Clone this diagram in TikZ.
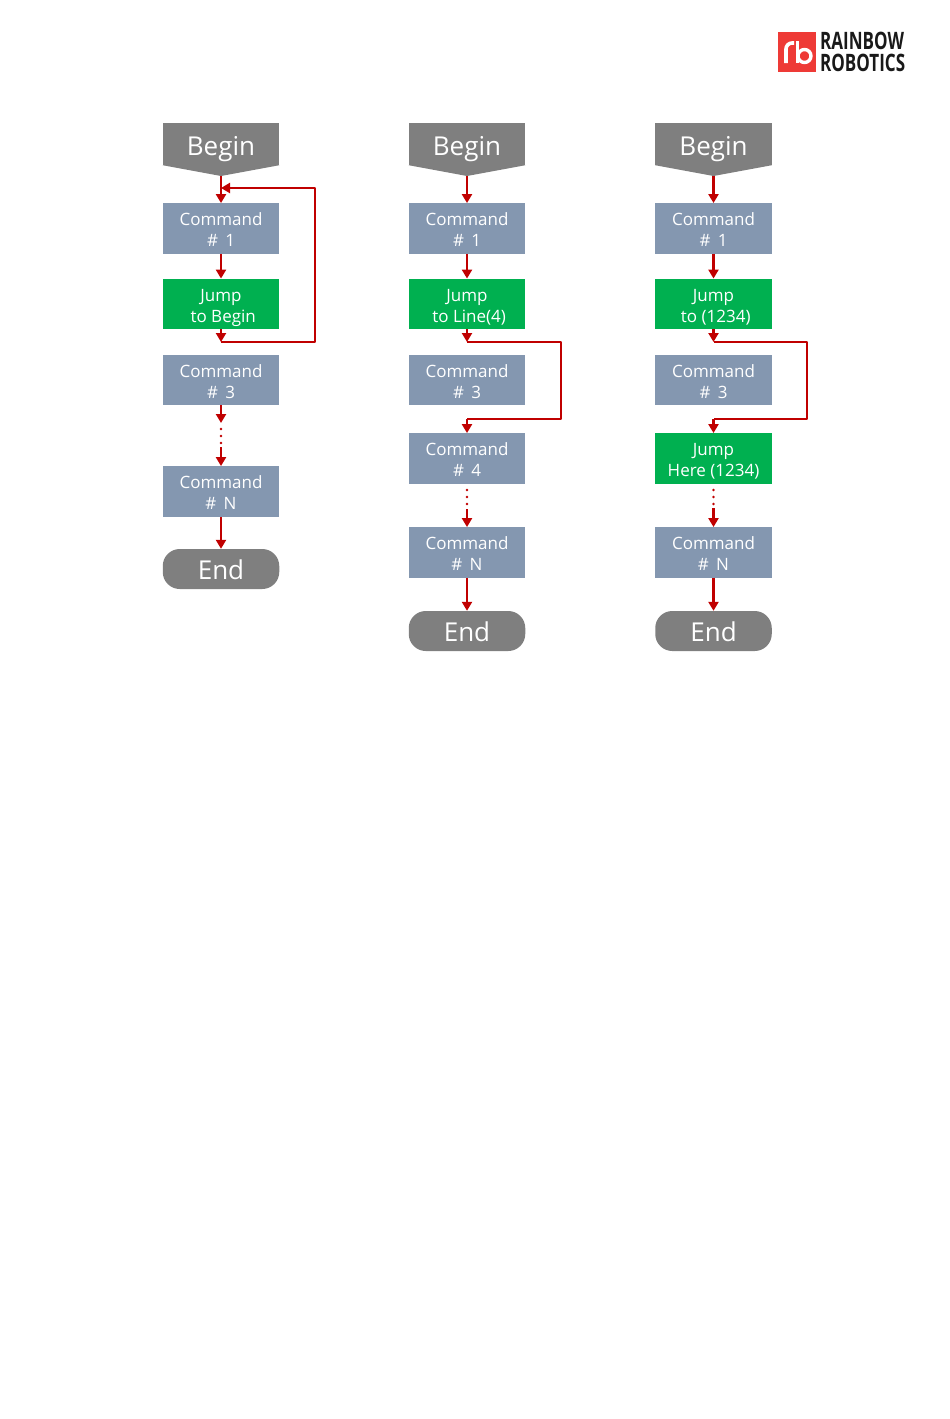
\documentclass[tikz,border=0pt]{standalone}
\usepackage{fontspec}
\setmainfont{Open Sans}
\usetikzlibrary{arrows.meta}
\definecolor{cmdblue}{HTML}{8497B0}
\definecolor{jumpgreen}{HTML}{00B050}
\definecolor{termgray}{HTML}{7F7F7F}
\definecolor{flowred}{HTML}{C00000}
\definecolor{logored}{HTML}{EE3A36}
\tikzset{
  flowbox/.style={minimum width=116.5pt, inner sep=0pt, align=center, text=white, text depth=0pt, font=\fontsize{17}{21}\selectfont},
  cmdbox/.style={flowbox, fill=cmdblue, minimum height=50.5pt, text height=36pt},
  jumpbox/.style={flowbox, fill=jumpgreen, minimum height=50.5pt, text height=36pt},
  beginbox/.style={flowbox, fill=termgray, minimum height=42pt, text height=22pt, font=\fontsize{26}{30}\selectfont},
  endbox/.style={flowbox, fill=termgray, minimum height=40pt, text height=21pt, rounded corners=17pt, font=\fontsize{26}{30}\selectfont},
  flow/.style={draw=flowred, line width=2.6pt, line join=round},
  flowdot/.style={flow, line cap=round, line width=2.8pt, dash pattern=on 0pt off 7pt},
  logotext/.style={inner sep=0pt, anchor=west, xscale=.71, text height=17pt, text depth=0pt, font=\fontsize{24}{26}\selectfont\bfseries, text=black!90}
}
\begin{document}
\begin{tikzpicture}[>={Triangle[length=9pt,width=10pt]}, x=1pt, y=-1pt]
\useasboundingbox (0,0) rectangle (950,1419);

% Logo
\fill[logored] (778,32) rectangle (816,72);
\draw[white, line width=3.6pt] (786,63) -- (786,49) arc[start angle=180, end angle=90, x radius=6, y radius=-6] -- (794,43);
\draw[white, line width=3.6pt] (797.5,41) -- (797.5,62.5);
\draw[white, line width=3.4pt] (804.5,56) circle[radius=6.5];
\node[logotext] (logoA) at (820,41) {RAINBOW};
\node[logotext] (logoB) at (820,63) {ROBOTICS};

% Spalte 1
\node[beginbox] (Ba) at (221,144) {Begin};
\fill[termgray] (Ba.south west) -- (Ba.south east) -- (221,176) -- cycle;
\coordinate (BaTip) at (221,176);
\node[cmdbox]  (Aa) at (221,228.5) {Command\\\#\ \,1};
\node[jumpbox] (Ab) at (221,304)   {Jump\\\ to Begin};
\node[cmdbox]  (Ac) at (221,380)   {Command\\\#\ \,3};
\node[cmdbox]  (An) at (221,491.5) {Command\\\#\ \,N};
\node[endbox]  (Ea) at (221,569)   {End};

\coordinate (Ja) at (221,342);
\coordinate (Ra) at (315,342);
\coordinate (Rb) at (315,188);
\coordinate (Ta) at (221,188);
\coordinate (Sa) at (221,423);
\coordinate (Da) at (221,429);
\coordinate (Db) at (221,445);
\coordinate (Dc) at (221,447);

\draw[flow,->] (BaTip) -- (Aa);
\draw[flow,->] (Aa) -- (Ab);
\draw[flow,->] (Ab) -- (Ja);
\draw[flow,->] (Ja) -- (Ra) -- (Rb) -- (Ta);
\draw[flow,->] (Ac) -- (Sa);
\draw[flowdot] (Da) -- (Db);
\draw[flow,->] (Dc) -- (An);
\draw[flow,->] (An) -- (Ea);

% Spalte 2
\node[beginbox] (Bb) at (467,144) {Begin};
\fill[termgray] (Bb.south west) -- (Bb.south east) -- (467,176) -- cycle;
\coordinate (BbTip) at (467,176);
\node[cmdbox]  (Ca) at (467,228.5) {Command\\\#\ \,1};
\node[jumpbox] (Cb) at (467,304)   {Jump\\\ to Line(4)};
\node[cmdbox]  (Cc) at (467,380)   {Command\\\#\ \,3};
\node[cmdbox]  (Cd) at (467,458.5) {Command\\\#\ \,4};
\node[cmdbox]  (Cn) at (467,552.5) {Command\\\#\ \,N};
\node[endbox]  (Eb) at (467,631)   {End};

\coordinate (Jb) at (467,342);
\coordinate (Qa) at (561,342);
\coordinate (Qb) at (561,419);
\coordinate (Tb) at (467,419);
\coordinate (Dd) at (467,490);
\coordinate (De) at (467,506);
\coordinate (Df) at (467,509);

\draw[flow,->] (BbTip) -- (Ca);
\draw[flow,->] (Ca) -- (Cb);
\draw[flow,->] (Cb) -- (Jb);
\draw[flow] (Jb) -- (Qa) -- (Qb) -- (Tb);
\draw[flow,->] (Tb) -- (Cd);
\draw[flowdot] (Dd) -- (De);
\draw[flow,->] (Df) -- (Cn);
\draw[flow,->] (Cn) -- (Eb);

% Spalte 3
\node[beginbox] (Bc) at (713.5,144) {Begin};
\fill[termgray] (Bc.south west) -- (Bc.south east) -- (713.5,176) -- cycle;
\coordinate (BcTip) at (713.5,176);
\node[cmdbox]  (Fa) at (713.5,228.5) {Command\\\#\ \,1};
\node[jumpbox] (Fb) at (713.5,304)   {Jump\\\ to (1234)};
\node[cmdbox]  (Fc) at (713.5,380)   {Command\\\#\ \,3};
\node[jumpbox] (Fd) at (713.5,458.5) {Jump\\Here (1234)};
\node[cmdbox]  (Fn) at (713.5,552.5) {Command\\\#\ \,N};
\node[endbox]  (Ec) at (713.5,631)   {End};

\coordinate (Jc) at (713.5,342);
\coordinate (Ua) at (807,342);
\coordinate (Ub) at (807,419);
\coordinate (Tc) at (713.5,419);
\coordinate (Dg) at (713.5,490);
\coordinate (Dh) at (713.5,506);
\coordinate (Di) at (713.5,508);

\draw[flow,->] (BcTip) -- (Fa);
\draw[flow,->] (Fa) -- (Fb);
\draw[flow,->] (Fb) -- (Jc);
\draw[flow] (Jc) -- (Ua) -- (Ub) -- (Tc);
\draw[flow,->] (Tc) -- (Fd);
\draw[flowdot] (Dg) -- (Dh);
\draw[flow,->] (Di) -- (Fn);
\draw[flow,->] (Fn) -- (Ec);

\end{tikzpicture}
\end{document}
